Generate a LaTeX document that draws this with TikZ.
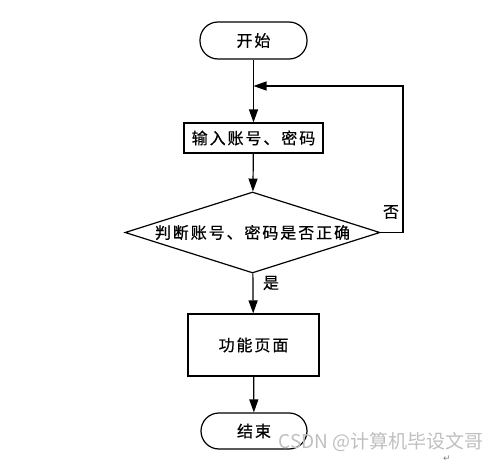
\documentclass[tikz,border=0pt]{standalone}
\usepackage{fontspec}
\setmainfont{Noto Sans CJK SC}[LetterSpace=12,FakeBold=0.6]
\newfontfamily\wmfont{Noto Sans CJK SC}
\newfontfamily\symfont{DejaVu Sans}
\usetikzlibrary{shapes.geometric,arrows.meta}
\tikzset{
  base/.style={draw=black, line width=1.2pt, inner sep=0pt, font=\fontsize{16}{18}\selectfont},
  term/.style={base, rectangle, rounded corners=18pt, minimum width=107pt, minimum height=37pt},
  proc/.style={base, rectangle},
  dec/.style={base, diamond, aspect=3.15, minimum width=255pt, minimum height=81pt},
  conn/.style={line width=1.2pt, -{Triangle[length=13pt,width=9pt]}},
  lbl/.style={font=\fontsize{16}{18}\selectfont, inner sep=0pt}
}
\begin{document}
\begin{tikzpicture}[x=1pt,y=1pt]
\useasboundingbox (0,0) rectangle (499,-463);
\node[term] (start) at (253.5,-40.5) {开始};
\node[proc, minimum width=139pt, minimum height=30pt] (input) at (253.5,-138) {输入账号、密码};
\node[dec] (check) at (252.5,-232.5) {判断账号、密码是否正确};
\node[proc, minimum width=131pt, minimum height=62pt] (func) at (253.5,-345) {功能页面};
\node[term, minimum width=106pt, minimum height=36pt] (end) at (254,-431) {结束};
\coordinate (join) at (253.5,-86);
\coordinate (loopc) at (403,-232.5);
\draw[conn] (start) -- (input);
\draw[conn] (input) -- (check);
\draw[conn] (check) -- (func);
\draw[conn] (func) -- (end);
\draw[conn] (check.east) -- (loopc) |- (join);
\node[lbl] (no) at (391,-212) {否};
\node[lbl] (yes) at (271,-283) {是};
\node[inner sep=0pt, anchor=east, text=black!25, font=\wmfont\fontsize{19}{21}\selectfont] (wm) at (484,-442) {CSDN @计算机毕设文哥};
\node[inner sep=0pt, text=black!50, font=\symfont\fontsize{9}{10}\selectfont] (ret) at (447,-459) {↵};
\end{tikzpicture}
\end{document}
